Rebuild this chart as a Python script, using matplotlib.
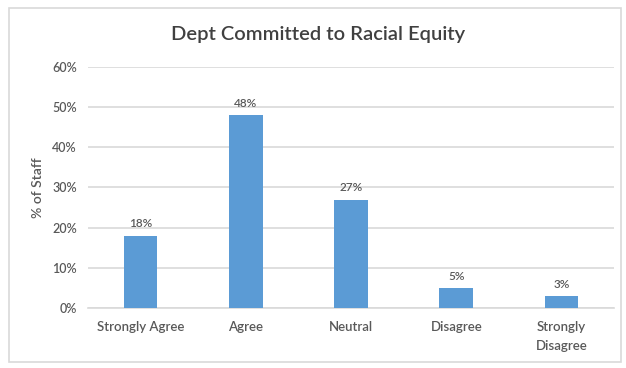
import matplotlib.pyplot as plt
from matplotlib.patches import Rectangle
from matplotlib.ticker import PercentFormatter

categories = ["Strongly Agree", "Agree", "Neutral", "Disagree", "Strongly\nDisagree"]
percents = [18, 48, 27, 5, 3]
yticks = [0, 10, 20, 30, 40, 50, 60]

plt.rcParams['font.family'] = ['Lato', 'DejaVu Sans']
text_grey = '#595959'
bar_blue = '#5b9bd5'

fig = plt.figure(figsize=(6.26, 3.68), dpi=100)
ax = fig.add_axes([0.1406, 0.163, 0.8404, 0.655])

x = range(len(categories))
bars = ax.bar(x, percents, width=0.32, color=bar_blue, zorder=3)
for b, v in zip(bars, percents):
    ax.text(b.get_x() + b.get_width() / 2, v + 1.6, f"{v}%", ha='center', va='bottom',
            fontsize=8.5, color=text_grey, fontweight='semibold')

ax.set_xlim(-0.5, len(categories) - 0.5)
ax.set_ylim(0, 60)
ax.set_yticks(yticks)
ax.yaxis.set_major_formatter(PercentFormatter(decimals=0))
ax.set_xticks(list(x))
ax.set_xticklabels(categories, fontsize=9.5, color=text_grey, linespacing=1.75,
                   fontweight='semibold')
for lbl in ax.get_yticklabels():
    lbl.set_fontweight('semibold')
ax.tick_params(axis='y', length=0, labelsize=9, labelcolor=text_grey, pad=8)
ax.tick_params(axis='x', length=0, pad=9)
ax.grid(axis='y', color='#d9d9d9', linewidth=1.2, zorder=0)
for side in ['top', 'right', 'left']:
    ax.spines[side].set_visible(False)
ax.spines['bottom'].set_color('#d9d9d9')
ax.spines['bottom'].set_linewidth(1.2)

ax.set_ylabel("% of Staff", fontsize=10, color=text_grey, labelpad=6, fontweight='semibold')
fig.text(0.508, 0.905, "Dept Committed to Racial Equity", ha='center', va='center',
         fontsize=14.5, color='#404040', fontweight='semibold')

# outer chart border
fig.add_artist(Rectangle((0.014, 0.016), 0.978, 0.962, transform=fig.transFigure,
                         fill=False, edgecolor='#d9d9d9', linewidth=1.2))

fig.savefig("out.png", dpi=100)
